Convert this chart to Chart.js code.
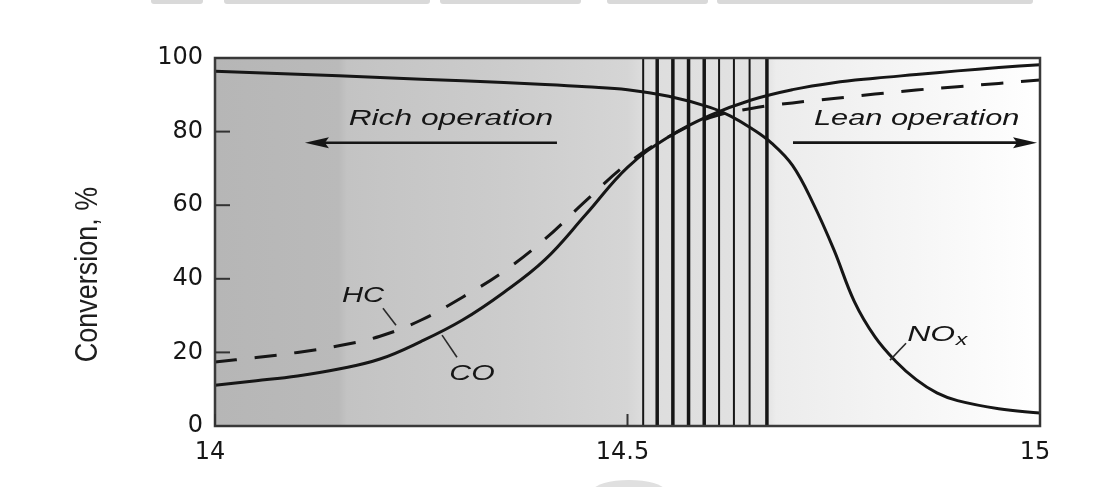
<!DOCTYPE html>
<html>
<head>
<meta charset="utf-8">
<script src="https://cdn.jsdelivr.net/npm/chart.js@4.4.1/dist/chart.umd.min.js"></script>
<style>
  html, body { margin: 0; padding: 0; background: #fff; }
  #wrap { position: relative; width: 1095px; height: 487px; overflow: hidden; }
  canvas { display: block; }
  .smudge { position: absolute; top: 0; height: 4px; background: #d9d9d9; border-radius: 0 0 3px 3px; }
  .blob { position: absolute; left: 594px; top: 480px; width: 70px; height: 20px; border-radius: 50%; background: #e0e0e0; }
</style>
</head>
<body>
<div id="wrap">
  <canvas id="chart" width="1095" height="487"></canvas>
  <div class="smudge" style="left:151px;width:52px"></div>
  <div class="smudge" style="left:224px;width:206px"></div>
  <div class="smudge" style="left:440px;width:141px"></div>
  <div class="smudge" style="left:607px;width:101px"></div>
  <div class="smudge" style="left:717px;width:316px"></div>
  <div class="blob"></div>
</div>
<script>
// air/fuel ratio grid and conversion (%)
const afr = [14.0, 14.05, 14.1, 14.15, 14.2, 14.25, 14.3, 14.35, 14.4, 14.45, 14.5,
             14.55, 14.6, 14.65, 14.7, 14.75, 14.8, 14.85, 14.9, 14.95, 15.0];
const coConv = [11.1, 12.3, 13.6, 15.5, 18.2, 23.0, 28.8, 36.3, 45.2, 57.6, 70.3,
                78.6, 84.4, 88.6, 91.4, 93.3, 94.5, 95.5, 96.5, 97.4, 98.2];
const hcConv = [17.4, 18.6, 20.0, 21.8, 24.4, 28.8, 35.0, 42.0, 50.8, 61.3, 71.3,
                78.6, 83.8, 86.3, 87.8, 89.0, 90.2, 91.3, 92.2, 93.1, 94.0];

const noxAfr = [14.0, 14.1, 14.2, 14.3, 14.4, 14.45, 14.5, 14.55, 14.6, 14.625, 14.65, 14.675,
                14.7, 14.725, 14.75, 14.775, 14.8, 14.825, 14.85, 14.875, 14.9, 14.95, 15.0];
const noxConv = [96.4, 95.6, 94.7, 93.8, 92.8, 92.2, 91.4, 89.6, 86.6, 84.2, 80.9, 76.8,
                 70.8, 60.5, 48.0, 33.8, 24.2, 17.6, 12.6, 9.0, 6.9, 4.7, 3.5];

// stoichiometric window lines (A/F)
const windowLines = [14.519, 14.536, 14.555, 14.574, 14.593, 14.611, 14.629, 14.648, 14.669];
const windowWeights = [2, 3.5, 3.5, 3.5, 3.5, 2, 2, 2, 3.5];

const xTickValues = [14, 14.5, 15];
const yTickValues = [0, 20, 40, 60, 80, 100];

const notes = [
  { text: "Rich operation", x0: 14.162, x1: 14.410, y: 81.7, size: 22 },
  { text: "Lean operation", x0: 14.726, x1: 14.975, y: 81.7, size: 22 },
  { text: "HC", x0: 14.154, x1: 14.205, y: 33.8, size: 22 },
  { text: "CO", x0: 14.284, x1: 14.339, y: 12.4, size: 22 },
  { text: "NO", x0: 14.839, x1: 14.897, y: 23.0, size: 22 },
  { text: "x", x0: 14.898, x1: 14.912, y: 21.9, size: 17 }
];
const arrows = [
  { from: [14.4145, 76.95], to: [14.109, 76.95] },
  { from: [14.7006, 77.0], to: [14.9964, 77.0] }
];
const leaders = [
  { from: [14.2036, 32.0], to: [14.2194, 27.4] },
  { from: [14.2752, 24.7], to: [14.2933, 18.7] },
  { from: [14.8182, 17.9], to: [14.8376, 22.5] }
];
const yTitle = { text: "Conversion, %", from: 17.3, to: 65.0 };

const ink = "#161616";
const tickFont = { family: "DejaVu Sans", size: 24 };

const toPoints = (xs, ys) => xs.map((x, i) => ({ x: x, y: ys[i] }));

const backdrop = {
  id: "backdrop",
  beforeDraw(chart) {
    const { ctx, chartArea: a } = chart;
    ctx.save();
    const g = ctx.createLinearGradient(a.left, 0, a.right, 0);
    g.addColorStop(0, "#b6b6b6");
    g.addColorStop(0.15, "#bababa");
    g.addColorStop(0.16, "#c3c3c3");
    g.addColorStop(0.35, "#cccccc");
    g.addColorStop(0.5, "#d5d5d5");
    g.addColorStop(0.52, "#dddddd");
    g.addColorStop(0.67, "#e3e3e3");
    g.addColorStop(0.68, "#ececec");
    g.addColorStop(0.8, "#f3f3f3");
    g.addColorStop(0.95, "#fcfcfc");
    g.addColorStop(1, "#ffffff");
    ctx.fillStyle = g;
    ctx.fillRect(a.left, a.top, a.right - a.left, a.bottom - a.top);
    ctx.restore();
  },
  beforeDatasetsDraw(chart) {
    const { ctx, chartArea: a, scales: { x } } = chart;
    ctx.save();
    ctx.strokeStyle = ink;
    windowLines.forEach((v, i) => {
      const px = x.getPixelForValue(v);
      ctx.lineWidth = windowWeights[i];
      ctx.beginPath();
      ctx.moveTo(px, a.top);
      ctx.lineTo(px, a.bottom);
      ctx.stroke();
    });
    ctx.restore();
  }
};

function fitText(ctx, text, x0, x1, baseline, font) {
  ctx.font = font;
  const w = ctx.measureText(text).width;
  ctx.save();
  ctx.translate(x0, baseline);
  ctx.scale((x1 - x0) / w, 1);
  ctx.fillText(text, 0, 0);
  ctx.restore();
}

const overlay = {
  id: "overlay",
  afterDatasetsDraw(chart) {
    const { ctx, chartArea: a, scales: { x, y } } = chart;
    ctx.save();

    // frame
    ctx.strokeStyle = "#3a3a3a";
    ctx.lineWidth = 2.5;
    ctx.strokeRect(a.left, a.top, a.right - a.left, a.bottom - a.top);

    // inner ticks
    ctx.strokeStyle = "#333";
    ctx.lineWidth = 2;
    y.ticks.forEach(t => {
      const py = y.getPixelForValue(t.value);
      ctx.beginPath();
      ctx.moveTo(a.left, py);
      ctx.lineTo(a.left + 15, py);
      ctx.stroke();
    });
    x.ticks.forEach(t => {
      const px = x.getPixelForValue(t.value);
      ctx.beginPath();
      ctx.moveTo(px, a.bottom);
      ctx.lineTo(px, a.bottom - 12);
      ctx.stroke();
    });

    // labels
    ctx.fillStyle = ink;
    ctx.textBaseline = "alphabetic";
    notes.forEach(n => {
      fitText(ctx, n.text, x.getPixelForValue(n.x0), x.getPixelForValue(n.x1),
        y.getPixelForValue(n.y), "italic " + n.size + "px 'Liberation Sans', Arial, sans-serif");
    });

    // arrows
    ctx.strokeStyle = ink;
    ctx.lineWidth = 2.6;
    arrows.forEach(ar => {
      const x0 = x.getPixelForValue(ar.from[0]), y0 = y.getPixelForValue(ar.from[1]);
      const x1 = x.getPixelForValue(ar.to[0]), y1 = y.getPixelForValue(ar.to[1]);
      const dir = Math.sign(x1 - x0);
      ctx.beginPath();
      ctx.moveTo(x0, y0);
      ctx.lineTo(x1 - dir * 20, y1);
      ctx.stroke();
      ctx.beginPath();
      ctx.moveTo(x1, y1);
      ctx.lineTo(x1 - dir * 24, y1 - 5.5);
      ctx.lineTo(x1 - dir * 20, y1);
      ctx.lineTo(x1 - dir * 24, y1 + 5.5);
      ctx.closePath();
      ctx.fill();
    });

    // leader lines
    ctx.lineWidth = 1.6;
    ctx.strokeStyle = "#2a2a2a";
    leaders.forEach(l => {
      ctx.beginPath();
      ctx.moveTo(x.getPixelForValue(l.from[0]), y.getPixelForValue(l.from[1]));
      ctx.lineTo(x.getPixelForValue(l.to[0]), y.getPixelForValue(l.to[1]));
      ctx.stroke();
    });

    // y axis title
    const yStart = y.getPixelForValue(yTitle.from);
    const yEnd = y.getPixelForValue(yTitle.to);
    ctx.font = "24px 'Liberation Sans', Arial, sans-serif";
    const tw = ctx.measureText(yTitle.text).width;
    ctx.translate(a.left - 118, yStart);
    ctx.rotate(-Math.PI / 2);
    ctx.scale((yStart - yEnd) / tw, 1.3);
    ctx.fillStyle = "#1e1e1e";
    ctx.fillText(yTitle.text, 0, 0);

    ctx.restore();
  }
};

const solid = { borderColor: ink, borderWidth: 3, pointRadius: 0, fill: false, tension: 0.4 };

new Chart(document.getElementById("chart").getContext("2d"), {
  type: "line",
  data: {
    datasets: [
      Object.assign({ label: "NOx", data: toPoints(noxAfr, noxConv) }, solid),
      Object.assign({ label: "CO", data: toPoints(afr, coConv) }, solid),
      Object.assign({ label: "HC", data: toPoints(afr, hcConv), borderDash: [22, 18] }, solid)
    ]
  },
  options: {
    responsive: false,
    animation: false,
    layout: { padding: { top: 58, right: 55, bottom: 0, left: 0 } },
    plugins: { legend: { display: false }, tooltip: { enabled: false } },
    scales: {
      x: {
        type: "linear",
        min: 14,
        max: 15,
        afterBuildTicks: s => { s.ticks = xTickValues.map(v => ({ value: v })); },
        afterFit: s => { s.height = 61; },
        grid: { display: false, drawTicks: false },
        border: { display: false },
        ticks: { font: tickFont, color: ink, padding: 12, labelOffset: -5, maxRotation: 0,
                 autoSkip: false, callback: v => String(v) }
      },
      y: {
        min: 0,
        max: 100,
        afterBuildTicks: s => { s.ticks = yTickValues.map(v => ({ value: v })); },
        afterFit: s => { s.width = 215; },
        grid: { display: false, drawTicks: false },
        border: { display: false },
        ticks: { font: tickFont, color: ink, padding: 12 }
      }
    }
  },
  plugins: [backdrop, overlay]
});
</script>
</body>
</html>
